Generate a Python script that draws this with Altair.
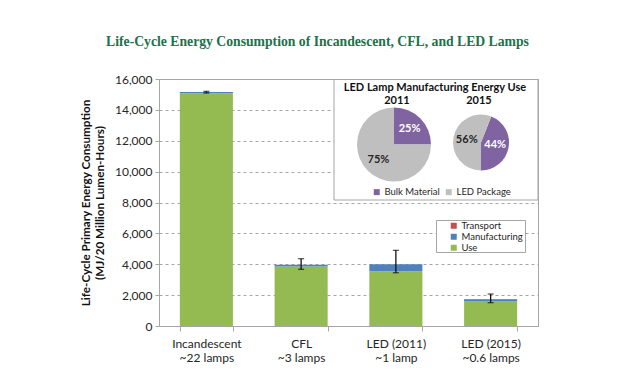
import math
import altair as alt
import pandas as pd

# ---------------- data ----------------
categories = ["Incandescent", "CFL", "LED (2011)", "LED (2015)"]
lamp_counts = ["~22 lamps", "~3 lamps", "~1 lamp", "~0.6 lamps"]
components = ["Transport", "Manufacturing", "Use"]
use_vals = [15080, 3850, 3550, 1580]
manufacturing_vals = [70, 110, 450, 160]
transport_vals = [10, 10, 5, 5]
err_low = [15090, 3670, 3450, 1510]
err_high = [15200, 4360, 4900, 2070]

pie_parts = ["Bulk Material", "LED Package"]
pie_2011 = [25, 75]
pie_2015 = [44, 56]

comp_colors = ["#C0504D", "#4F81BD", "#94BB52"]
pie_colors = ["#8064A2", "#BFBFBF"]

labels = [f"{c}|{n}" for c, n in zip(categories, lamp_counts)]

rows = []
for lab, u, m, t in zip(labels, use_vals, manufacturing_vals, transport_vals):
    rows.append({"Label": lab, "Component": "Use", "Value": u, "Ord": 0})
    rows.append({"Label": lab, "Component": "Manufacturing", "Value": m, "Ord": 1})
    rows.append({"Label": lab, "Component": "Transport", "Value": t, "Ord": 2})
bars_df = pd.DataFrame(rows)
err_df = pd.DataFrame({"Label": labels, "Low": err_low, "High": err_high})

FONT = "Lato"
GREY = "#A6A6A6"
TXT = "#262626"
YTITLE = ["Life-Cycle Primary Energy Consumption", "(MJ/20 Million Lumen-Hours)"]

xscale = alt.Scale(domain=labels, paddingInner=0.44, paddingOuter=0.22)
yscale = alt.Scale(domain=[0, 16000], nice=False)

yaxis = alt.Axis(
    values=list(range(0, 16001, 2000)), labelExpr="format(datum.value, ',')",
    labelFont=FONT, labelFontSize=12, labelColor=TXT, labelPadding=3,
    tickSize=4, tickColor=GREY, domainColor=GREY,
    grid=True, gridColor=GREY, gridDash=[3, 3],
    titleFont=FONT, titleFontSize=11.7, titleFontWeight="bold", titleColor="#111111",
    titlePadding=9, titleLineHeight=13.5,
)
xaxis = alt.Axis(
    labelExpr="split(datum.label, '|')", labelFont=FONT, labelFontSize=12,
    labelColor=TXT, labelLineHeight=14, labelPadding=7, labelAngle=0,
    tickBand="extent", tickSize=5, tickColor=GREY, domainColor=GREY,
    grid=False, title=None,
)

bars = alt.Chart(bars_df).mark_bar().encode(
    x=alt.X("Label:N", scale=xscale, axis=xaxis, sort=labels),
    y=alt.Y("Value:Q", scale=yscale, axis=yaxis, stack="zero", title=YTITLE),
    color=alt.Color("Component:N", scale=alt.Scale(domain=components, range=comp_colors),
                    legend=alt.Legend(orient="none", legendX=290, legendY=142, title=None,
                                      labelFont=FONT, labelFontSize=9.5, labelColor=TXT,
                                      symbolType="square", symbolSize=36, symbolStrokeWidth=0,
                                      rowPadding=0, labelOffset=3, padding=0)),
    order=alt.Order("Ord:Q"),
)

err_rule = alt.Chart(err_df).mark_rule(color="#111111", strokeWidth=1.3).encode(
    x=alt.X("Label:N", scale=xscale, axis=xaxis, sort=labels),
    y=alt.Y("Low:Q", scale=yscale, axis=yaxis, title=YTITLE),
    y2="High:Q",
)
err_lo = alt.Chart(err_df).mark_tick(color="#111111", size=6, thickness=1.3).encode(
    x=alt.X("Label:N", scale=xscale, axis=xaxis, sort=labels),
    y=alt.Y("Low:Q", scale=yscale, axis=yaxis, title=YTITLE),
)
err_hi = alt.Chart(err_df).mark_tick(color="#111111", size=6, thickness=1.3).encode(
    x=alt.X("Label:N", scale=xscale, axis=xaxis, sort=labels),
    y=alt.Y("High:Q", scale=yscale, axis=yaxis, title=YTITLE),
)

one = pd.DataFrame({"a": [0]})
legend_box = alt.Chart(one).mark_rect(fill="white", stroke=GREY, strokeWidth=1).encode(
    x=alt.value(277.5), x2=alt.value(366.5), y=alt.value(141.5), y2=alt.value(173.5)
)
inset_box = alt.Chart(one).mark_rect(fill="white", stroke=GREY, strokeWidth=1).encode(
    x=alt.value(175), x2=alt.value(379), y=alt.value(0.5), y2=alt.value(121)
)


def pie(values, start, cx, cy, r, lr, show_legend):
    df = pd.DataFrame({
        "Part": pie_parts, "Share": values,
        "Lbl": [f"{v}%" for v in values], "Ord": [0, 1],
    })
    base = alt.Chart(df).encode(
        theta=alt.Theta("Share:Q", stack=True,
                        scale=alt.Scale(range=[start, start + 2 * math.pi])),
        order=alt.Order("Ord:Q"),
    )
    if show_legend:
        leg = alt.Legend(orient="none", direction="horizontal", legendX=213, legendY=108,
                         title=None, labelFont=FONT, labelFontSize=9.5, labelColor=TXT,
                         symbolType="square", symbolSize=36, symbolStrokeWidth=0,
                         columnPadding=4, labelOffset=3, padding=0)
    else:
        leg = None
    arc = base.mark_arc(radius=r).encode(
        color=alt.Color("Part:N", scale=alt.Scale(domain=pie_parts, range=pie_colors), legend=leg),
        x=alt.value(cx), y=alt.value(cy),
    )
    txt = base.mark_text(radius=lr, font=FONT, fontSize=11, fontWeight="bold").encode(
        text="Lbl:N", x=alt.value(cx), y=alt.value(cy),
        color=alt.condition(alt.datum.Part == "Bulk Material", alt.value("white"), alt.value(TXT)),
    )
    return alt.layer(arc, txt)


pie11 = pie(pie_2011, 0.0, 235, 65.5, 37, 22, True)
pie15 = pie(pie_2015, 0.377, 322, 63.5, 28, 14.5, False)


def note(text, x, y):
    return alt.Chart(one).mark_text(font=FONT, fontSize=11, fontWeight="bold",
                                     color="#111111", baseline="middle").encode(
        x=alt.value(x), y=alt.value(y), text=alt.value(text))


notes = [
    note("LED Lamp Manufacturing Energy Use", 276, 8.5),
    note("2011", 238, 21.5),
    note("2015", 320, 21.5),
]

chart = alt.layer(
    bars, err_rule, err_lo, err_hi, legend_box, inset_box, pie11, pie15, *notes
).resolve_scale(
    color="independent", theta="independent"
).properties(
    width=379, height=247,
    autosize=alt.AutoSizeParams(type="none"),
    padding={"left": 151, "top": 71, "right": 90, "bottom": 40},
    title=alt.TitleParams(
        "Life-Cycle Energy Consumption of Incandescent, CFL, and LED Lamps",
        font="Liberation Serif", fontSize=13.7, fontWeight="bold", color="#22704A",
        anchor="middle", frame="group", offset=24, dx=-31),
).configure_view(stroke=GREY, strokeWidth=1)

chart.save("out.html", embed_options={"renderer": "svg", "actions": False})
